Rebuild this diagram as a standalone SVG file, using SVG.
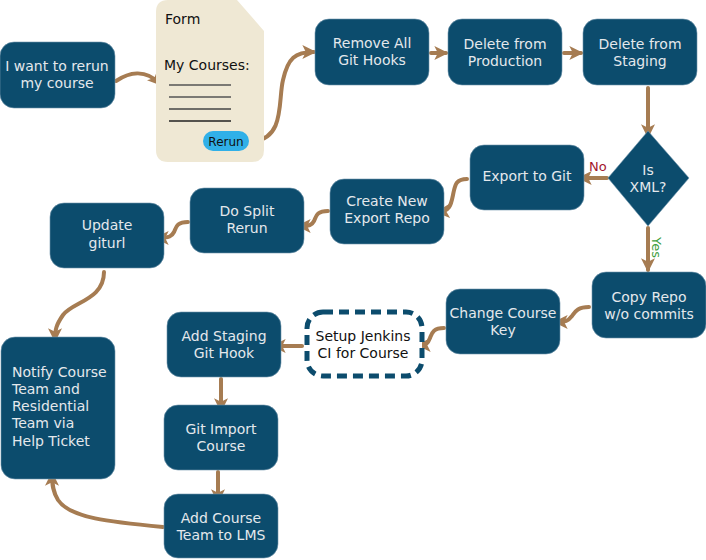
<svg xmlns="http://www.w3.org/2000/svg" width="706" height="560" viewBox="0 0 706 560">
<style>
.n{fill:#0c4c6d;stroke:#6f93ab;stroke-width:0.6}
.t{font-family:"DejaVu Sans",sans-serif;font-size:14px;fill:#e4e8ec;text-anchor:middle}
.tl{font-family:"DejaVu Sans",sans-serif;font-size:14px;fill:#e4e8ec}
.k{font-family:"DejaVu Sans",sans-serif;font-size:14px;fill:#111}
.c{fill:none;stroke:#a67c52;stroke-width:4;stroke-linecap:round;marker-end:url(#ah)}
</style>
<defs>
<marker id="ah" markerUnits="userSpaceOnUse" markerWidth="14" markerHeight="14" refX="10" refY="6" orient="auto" viewBox="0 0 12 12">
<path d="M0,0 L12,6 L0,12 L3,6 Z" fill="#a67c52"/>
</marker>
</defs>
<rect width="706" height="560" fill="#fff"/>
<g id="connectors">
<path class="c" d="M116,81 C128,73 145,68 160,84"/>
<path class="c" d="M254,141 C285,138 278,100 283,80 C288,58 295,52 314,52"/>
<path class="c" d="M431,53 L446,53"/>
<path class="c" d="M564,53 L581,53"/>
<path class="c" d="M648,88 L648,136"/>
<path class="c" d="M607,178 L580,178"/>
<path class="c" d="M648,228 L648,270"/>
<path class="c" d="M467,179 C455,179 455,186 453,195 C451,205 450,211 438,212"/>
<path class="c" d="M328,211 C316,211 316,217 314,221 C312,225 310,226 299,226"/>
<path class="c" d="M188,222 C176,222 176,228 174,232 C172,236 170,238 157,238"/>
<path class="c" d="M589,307 C577,307 575,312 572,316 C568,321 566,322 556,322"/>
<path class="c" d="M444,328 C433,328 432,333 430,338 C428,343 427,345 419,345"/>
<path class="c" d="M302,346 L274,346"/>
<path class="c" d="M221,379 L221,410"/>
<path class="c" d="M218,472 L218,501"/>
<path class="c" d="M104,272 C104,300 72,302 63,315 C56,325 55,330 55,340"/>
<path class="c" d="M163,527 C110,522 70,518 58,500 C53,492 52,485 52,474"/>
</g>
<g id="n1"><rect class="n" x="0" y="42" width="115" height="66" rx="14"/>
<text class="t" x="57" y="71">I want to rerun</text><text class="t" x="57" y="88">my course</text></g>
<g id="form">
<path d="M168,0 L237,0 L264,31 L264,150 Q264,162 252,162 L168,162 Q156,162 156,150 L156,12 Q156,0 168,0 Z" fill="#efe8d4"/>
<text class="k" x="165" y="24">Form</text>
<text class="k" x="164" y="70">My Courses:</text>
<g stroke-width="1.5"><line x1="169" y1="85" x2="231" y2="85" stroke="#555"/><line x1="169" y1="97" x2="231" y2="97" stroke="#555"/><line x1="169" y1="109" x2="231" y2="109" stroke="#444"/><line x1="169" y1="121" x2="231" y2="121" stroke="#222"/></g>
<rect x="203" y="131" width="46" height="20" rx="10" fill="#30b0e8"/>
<text x="226" y="146" font-family="DejaVu Sans,sans-serif" font-size="12" fill="#111" text-anchor="middle">Rerun</text>
</g>
<g id="n2"><rect class="n" x="315" y="19" width="114" height="66" rx="14"/><text class="t" x="372" y="48">Remove All</text><text class="t" x="372" y="65">Git Hooks</text></g>
<g id="n3"><rect class="n" x="448" y="19" width="114" height="66" rx="14"/><text class="t" x="505" y="49">Delete from</text><text class="t" x="505" y="66">Production</text></g>
<g id="n4"><rect class="n" x="583" y="19" width="114" height="66" rx="14"/><text class="t" x="640" y="49">Delete from</text><text class="t" x="640" y="66">Staging</text></g>
<g id="d1"><path class="n" d="M648,131 L689,178 L648,226 L608,178 Z"/><text class="t" x="648" y="175">Is</text><text class="t" x="648" y="192">XML?</text></g>
<text x="589" y="171" font-family="DejaVu Sans,sans-serif" font-size="13" fill="#a3182d">No</text>
<text transform="translate(652,237) rotate(90)" font-family="DejaVu Sans,sans-serif" font-size="13" fill="#3d9e3d">Yes</text>
<g id="n5"><rect class="n" x="470" y="145" width="114" height="65" rx="14"/><text class="t" x="527" y="181">Export to Git</text></g>
<g id="n6"><rect class="n" x="330" y="179" width="114" height="65" rx="14"/><text class="t" x="387" y="206">Create New</text><text class="t" x="387" y="223">Export Repo</text></g>
<g id="n7"><rect class="n" x="190" y="188" width="114" height="65" rx="14"/><text class="t" x="247" y="216">Do Split</text><text class="t" x="247" y="233">Rerun</text></g>
<g id="n8"><rect class="n" x="50" y="203" width="114" height="65" rx="14"/><text class="t" x="107" y="230">Update</text><text class="t" x="107" y="248">giturl</text></g>
<g id="n9"><rect class="n" x="592" y="272" width="114" height="66" rx="14"/><text class="t" x="649" y="302">Copy Repo</text><text class="t" x="649" y="319">w/o commits</text></g>
<g id="n10"><rect class="n" x="446" y="289" width="114" height="65" rx="14"/><text class="t" x="503" y="318">Change Course</text><text class="t" x="503" y="335">Key</text></g>
<g id="n11"><rect x="307" y="312" width="115" height="64" rx="16" fill="#fff" stroke="#0c4c6d" stroke-width="5" stroke-dasharray="10 6"/><text class="k" x="363" y="341" text-anchor="middle">Setup Jenkins</text><text class="k" x="363" y="358" text-anchor="middle">CI for Course</text></g>
<g id="n12"><rect class="n" x="167" y="312" width="114" height="65" rx="14"/><text class="t" x="224" y="341">Add Staging</text><text class="t" x="224" y="358">Git Hook</text></g>
<g id="n13"><rect class="n" x="164" y="405" width="114" height="65" rx="14"/><text class="t" x="221" y="434">Git Import</text><text class="t" x="221" y="451">Course</text></g>
<g id="n14"><rect class="n" x="164" y="494" width="114" height="64" rx="14"/><text class="t" x="221" y="523">Add Course</text><text class="t" x="221" y="540">Team to LMS</text></g>
<g id="n15"><rect class="n" x="1" y="337" width="114" height="142" rx="14"/>
<text class="tl" x="12" y="377">Notify Course</text><text class="tl" x="12" y="394">Team and</text><text class="tl" x="12" y="411">Residential</text><text class="tl" x="12" y="428">Team via</text><text class="tl" x="12" y="446">Help Ticket</text></g>
</svg>
